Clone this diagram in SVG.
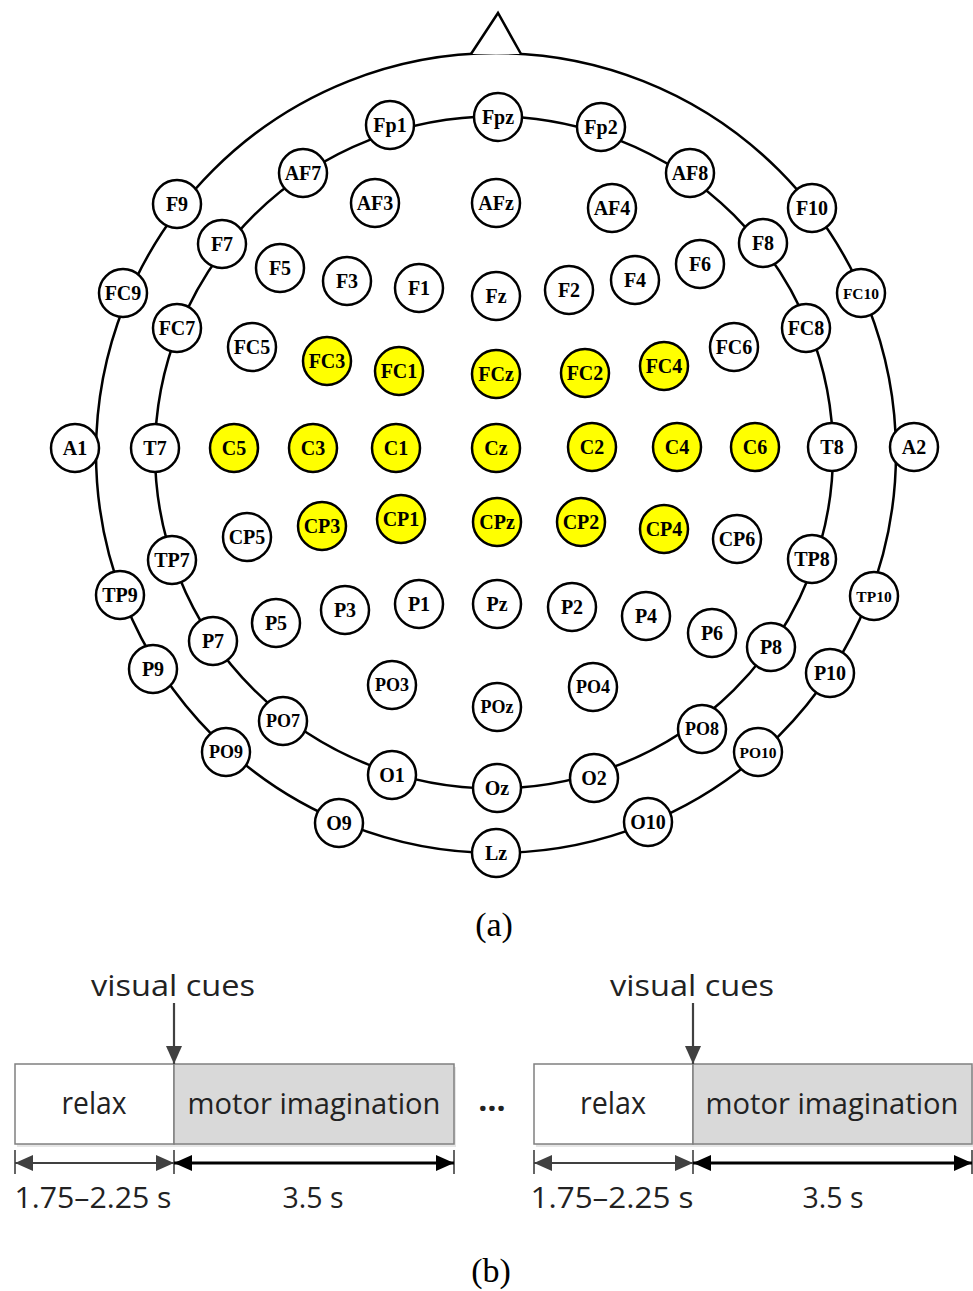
<svg xmlns="http://www.w3.org/2000/svg" width="973" height="1291" viewBox="0 0 973 1291">
<style>
.bg{fill:#fff}
.ring{fill:none;stroke:#000;stroke-width:2.5}
.e circle{fill:#fff;stroke:#000;stroke-width:2.5}
.e.y circle{fill:#ffff00}
.e text{font-family:"Liberation Serif","Times New Roman",serif;font-weight:bold;font-size:20px;text-anchor:middle;fill:#000}
.e.s text{font-size:18px}
.e.xs text{font-size:15.5px}
.cap{font-family:"Liberation Serif","Times New Roman",serif;font-size:34px;text-anchor:middle;fill:#000}
.t{font-family:"Open Sans","Lato",sans-serif;text-anchor:middle;fill:#222}
.box{stroke:#808080;stroke-width:1.5}
.shadow{fill:#e6e6e6}
.tick{stroke:#555;stroke-width:1.8}
.dg{stroke:#404040;stroke-width:2.2;fill:none}
.dk{stroke:#000;stroke-width:3;fill:none}
</style>
<defs>
<marker id="hg" markerUnits="userSpaceOnUse" markerWidth="18" markerHeight="16" refX="18" refY="8" orient="auto-start-reverse" viewBox="0 0 18 16">
<path d="M0,0 L18,8 L0,16 z" fill="#404040"/>
</marker>
<marker id="hk" markerUnits="userSpaceOnUse" markerWidth="18" markerHeight="16" refX="18" refY="8" orient="auto-start-reverse" viewBox="0 0 18 16">
<path d="M0,0 L18,8 L0,16 z" fill="#000"/>
</marker>
</defs>
<rect class="bg" x="0" y="0" width="973" height="1291"/>

<g id="connectors">
<circle class="ring" cx="496" cy="453" r="400"/>
<ellipse class="ring" cx="494" cy="452.5" rx="339" ry="336"/>
<path id="nose" d="M471,54 L498,13 L521,54" fill="#fff" stroke="#000" stroke-width="2.5" stroke-linejoin="miter"/>
</g>

<g id="electrodes">
<g id="Fp1" class="e"><circle cx="390" cy="125" r="24"/><text x="390" y="132">Fp1</text></g>
<g id="Fpz" class="e"><circle cx="498" cy="117" r="24"/><text x="498" y="124">Fpz</text></g>
<g id="Fp2" class="e"><circle cx="601" cy="127" r="24"/><text x="601" y="134">Fp2</text></g>
<g id="AF7" class="e"><circle cx="303" cy="173" r="24"/><text x="303" y="180">AF7</text></g>
<g id="AF3" class="e"><circle cx="375" cy="203" r="24"/><text x="375" y="210">AF3</text></g>
<g id="AFz" class="e"><circle cx="496" cy="203" r="24"/><text x="496" y="210">AFz</text></g>
<g id="AF4" class="e"><circle cx="612" cy="208" r="24"/><text x="612" y="215">AF4</text></g>
<g id="AF8" class="e"><circle cx="690" cy="173" r="24"/><text x="690" y="180">AF8</text></g>
<g id="F9" class="e"><circle cx="177" cy="204" r="24"/><text x="177" y="211">F9</text></g>
<g id="F7" class="e"><circle cx="222" cy="244" r="24"/><text x="222" y="251">F7</text></g>
<g id="F5" class="e"><circle cx="280" cy="268" r="24"/><text x="280" y="275">F5</text></g>
<g id="F3" class="e"><circle cx="347" cy="281" r="24"/><text x="347" y="288">F3</text></g>
<g id="F1" class="e"><circle cx="419" cy="288" r="24"/><text x="419" y="295">F1</text></g>
<g id="Fz" class="e"><circle cx="496" cy="296" r="24"/><text x="496" y="303">Fz</text></g>
<g id="F2" class="e"><circle cx="569" cy="290" r="24"/><text x="569" y="297">F2</text></g>
<g id="F4" class="e"><circle cx="635" cy="280" r="24"/><text x="635" y="287">F4</text></g>
<g id="F6" class="e"><circle cx="700" cy="264" r="24"/><text x="700" y="271">F6</text></g>
<g id="F8" class="e"><circle cx="763" cy="243" r="24"/><text x="763" y="250">F8</text></g>
<g id="F10" class="e"><circle cx="812" cy="208" r="24"/><text x="812" y="215">F10</text></g>
<g id="FC9" class="e"><circle cx="123" cy="293" r="24"/><text x="123" y="300">FC9</text></g>
<g id="FC7" class="e"><circle cx="177" cy="328" r="24"/><text x="177" y="335">FC7</text></g>
<g id="FC5" class="e"><circle cx="252" cy="347" r="24"/><text x="252" y="354">FC5</text></g>
<g id="FC3" class="e y"><circle cx="327" cy="361" r="24"/><text x="327" y="368">FC3</text></g>
<g id="FC1" class="e y"><circle cx="399" cy="371" r="24"/><text x="399" y="378">FC1</text></g>
<g id="FCz" class="e y"><circle cx="496" cy="374" r="24"/><text x="496" y="381">FCz</text></g>
<g id="FC2" class="e y"><circle cx="585" cy="373" r="24"/><text x="585" y="380">FC2</text></g>
<g id="FC4" class="e y"><circle cx="664" cy="366" r="24"/><text x="664" y="373">FC4</text></g>
<g id="FC6" class="e"><circle cx="734" cy="347" r="24"/><text x="734" y="354">FC6</text></g>
<g id="FC8" class="e"><circle cx="806" cy="328" r="24"/><text x="806" y="335">FC8</text></g>
<g id="FC10" class="e xs"><circle cx="861" cy="293" r="24"/><text x="861" y="299">FC10</text></g>
<g id="A1" class="e"><circle cx="75" cy="448" r="24"/><text x="75" y="455">A1</text></g>
<g id="T7" class="e"><circle cx="155" cy="448" r="24"/><text x="155" y="455">T7</text></g>
<g id="C5" class="e y"><circle cx="234" cy="448" r="24"/><text x="234" y="455">C5</text></g>
<g id="C3" class="e y"><circle cx="313" cy="448" r="24"/><text x="313" y="455">C3</text></g>
<g id="C1" class="e y"><circle cx="396" cy="448" r="24"/><text x="396" y="455">C1</text></g>
<g id="Cz" class="e y"><circle cx="496" cy="448" r="24"/><text x="496" y="455">Cz</text></g>
<g id="C2" class="e y"><circle cx="592" cy="447" r="24"/><text x="592" y="454">C2</text></g>
<g id="C4" class="e y"><circle cx="677" cy="447" r="24"/><text x="677" y="454">C4</text></g>
<g id="C6" class="e y"><circle cx="755" cy="447" r="24"/><text x="755" y="454">C6</text></g>
<g id="T8" class="e"><circle cx="832" cy="447" r="24"/><text x="832" y="454">T8</text></g>
<g id="A2" class="e"><circle cx="914" cy="447" r="24"/><text x="914" y="454">A2</text></g>
<g id="CP5" class="e"><circle cx="247" cy="537" r="24"/><text x="247" y="544">CP5</text></g>
<g id="CP3" class="e y"><circle cx="322" cy="526" r="24"/><text x="322" y="533">CP3</text></g>
<g id="CP1" class="e y"><circle cx="401" cy="519" r="24"/><text x="401" y="526">CP1</text></g>
<g id="CPz" class="e y"><circle cx="497" cy="522" r="24"/><text x="497" y="529">CPz</text></g>
<g id="CP2" class="e y"><circle cx="581" cy="522" r="24"/><text x="581" y="529">CP2</text></g>
<g id="CP4" class="e y"><circle cx="664" cy="529" r="24"/><text x="664" y="536">CP4</text></g>
<g id="CP6" class="e"><circle cx="737" cy="539" r="24"/><text x="737" y="546">CP6</text></g>
<g id="TP7" class="e"><circle cx="172" cy="560" r="24"/><text x="172" y="567">TP7</text></g>
<g id="TP8" class="e"><circle cx="812" cy="559" r="24"/><text x="812" y="566">TP8</text></g>
<g id="TP9" class="e"><circle cx="120" cy="595" r="24"/><text x="120" y="602">TP9</text></g>
<g id="TP10" class="e xs"><circle cx="874" cy="596" r="24"/><text x="874" y="602">TP10</text></g>
<g id="P9" class="e"><circle cx="153" cy="669" r="24"/><text x="153" y="676">P9</text></g>
<g id="P7" class="e"><circle cx="213" cy="641" r="24"/><text x="213" y="648">P7</text></g>
<g id="P5" class="e"><circle cx="276" cy="623" r="24"/><text x="276" y="630">P5</text></g>
<g id="P3" class="e"><circle cx="345" cy="610" r="24"/><text x="345" y="617">P3</text></g>
<g id="P1" class="e"><circle cx="419" cy="604" r="24"/><text x="419" y="611">P1</text></g>
<g id="Pz" class="e"><circle cx="497" cy="604" r="24"/><text x="497" y="611">Pz</text></g>
<g id="P2" class="e"><circle cx="572" cy="607" r="24"/><text x="572" y="614">P2</text></g>
<g id="P4" class="e"><circle cx="646" cy="616" r="24"/><text x="646" y="623">P4</text></g>
<g id="P6" class="e"><circle cx="712" cy="633" r="24"/><text x="712" y="640">P6</text></g>
<g id="P8" class="e"><circle cx="771" cy="647" r="24"/><text x="771" y="654">P8</text></g>
<g id="P10" class="e"><circle cx="830" cy="673" r="24"/><text x="830" y="680">P10</text></g>
<g id="PO9" class="e s"><circle cx="226" cy="752" r="24"/><text x="226" y="758">PO9</text></g>
<g id="PO7" class="e s"><circle cx="283" cy="721" r="24"/><text x="283" y="727">PO7</text></g>
<g id="PO3" class="e s"><circle cx="392" cy="685" r="24"/><text x="392" y="691">PO3</text></g>
<g id="POz" class="e s"><circle cx="497" cy="707" r="24"/><text x="497" y="713">POz</text></g>
<g id="PO4" class="e s"><circle cx="593" cy="687" r="24"/><text x="593" y="693">PO4</text></g>
<g id="PO8" class="e s"><circle cx="702" cy="729" r="24"/><text x="702" y="735">PO8</text></g>
<g id="PO10" class="e xs"><circle cx="758" cy="752" r="24"/><text x="758" y="758">PO10</text></g>
<g id="O1" class="e"><circle cx="392" cy="775" r="24"/><text x="392" y="782">O1</text></g>
<g id="Oz" class="e"><circle cx="497" cy="788" r="24"/><text x="497" y="795">Oz</text></g>
<g id="O2" class="e"><circle cx="594" cy="778" r="24"/><text x="594" y="785">O2</text></g>
<g id="O9" class="e"><circle cx="339" cy="823" r="24"/><text x="339" y="830">O9</text></g>
<g id="Lz" class="e"><circle cx="496" cy="853" r="24"/><text x="496" y="860">Lz</text></g>
<g id="O10" class="e"><circle cx="648" cy="822" r="24"/><text x="648" y="829">O10</text></g>
</g>

<text id="cap-a" class="cap" x="494" y="936">(a)</text>

<g id="timeline">
<g id="trial1">
<rect class="shadow" x="17" y="1067" width="439" height="80"/>
<rect class="box" x="15" y="1064" width="159" height="80" fill="#fff"/>
<rect class="box" x="174" y="1064" width="280" height="80" fill="#d9d9d9"/>
<text class="t" x="94" y="1114" font-size="31" textLength="65" lengthAdjust="spacingAndGlyphs">relax</text>
<text class="t" x="314" y="1114" font-size="30" textLength="253" lengthAdjust="spacingAndGlyphs">motor imagination</text>
<text class="t" x="173" y="996" font-size="29" textLength="164" lengthAdjust="spacingAndGlyphs">visual cues</text>
<line class="dg" x1="174" y1="1003" x2="174" y2="1064" marker-end="url(#hg)"/>
<line class="tick" x1="15" y1="1150" x2="15" y2="1174"/>
<line class="tick" x1="174" y1="1150" x2="174" y2="1174"/>
<line class="tick" x1="454" y1="1150" x2="454" y2="1174"/>
<line class="dg" x1="15" y1="1163" x2="174" y2="1163" marker-start="url(#hg)" marker-end="url(#hg)"/>
<line class="dk" x1="174" y1="1163" x2="454" y2="1163" marker-start="url(#hk)" marker-end="url(#hk)"/>
<text class="t" x="93" y="1208" font-size="30" textLength="157" lengthAdjust="spacingAndGlyphs">1.75–2.25 s</text>
<text class="t" x="313" y="1208" font-size="30" textLength="61" lengthAdjust="spacingAndGlyphs">3.5 s</text>
</g>
<text id="dots" class="t" x="492" y="1111" font-size="32" font-weight="bold" fill="#000">…</text>
<g id="trial2">
<rect class="shadow" x="536" y="1067" width="437" height="80"/>
<rect class="box" x="534" y="1064" width="159" height="80" fill="#fff"/>
<rect class="box" x="693" y="1064" width="279" height="80" fill="#d9d9d9"/>
<text class="t" x="613" y="1114" font-size="31" textLength="66" lengthAdjust="spacingAndGlyphs">relax</text>
<text class="t" x="832" y="1114" font-size="30" textLength="253" lengthAdjust="spacingAndGlyphs">motor imagination</text>
<text class="t" x="692" y="996" font-size="29" textLength="164" lengthAdjust="spacingAndGlyphs">visual cues</text>
<line class="dg" x1="693" y1="1003" x2="693" y2="1064" marker-end="url(#hg)"/>
<line class="tick" x1="534" y1="1150" x2="534" y2="1174"/>
<line class="tick" x1="693" y1="1150" x2="693" y2="1174"/>
<line class="tick" x1="972" y1="1150" x2="972" y2="1174"/>
<line class="dg" x1="534" y1="1163" x2="693" y2="1163" marker-start="url(#hg)" marker-end="url(#hg)"/>
<line class="dk" x1="693" y1="1163" x2="972" y2="1163" marker-start="url(#hk)" marker-end="url(#hk)"/>
<text class="t" x="612" y="1208" font-size="30" textLength="163" lengthAdjust="spacingAndGlyphs">1.75–2.25 s</text>
<text class="t" x="833" y="1208" font-size="30" textLength="61" lengthAdjust="spacingAndGlyphs">3.5 s</text>
</g>
</g>

<text id="cap-b" class="cap" x="491" y="1282">(b)</text>
</svg>
